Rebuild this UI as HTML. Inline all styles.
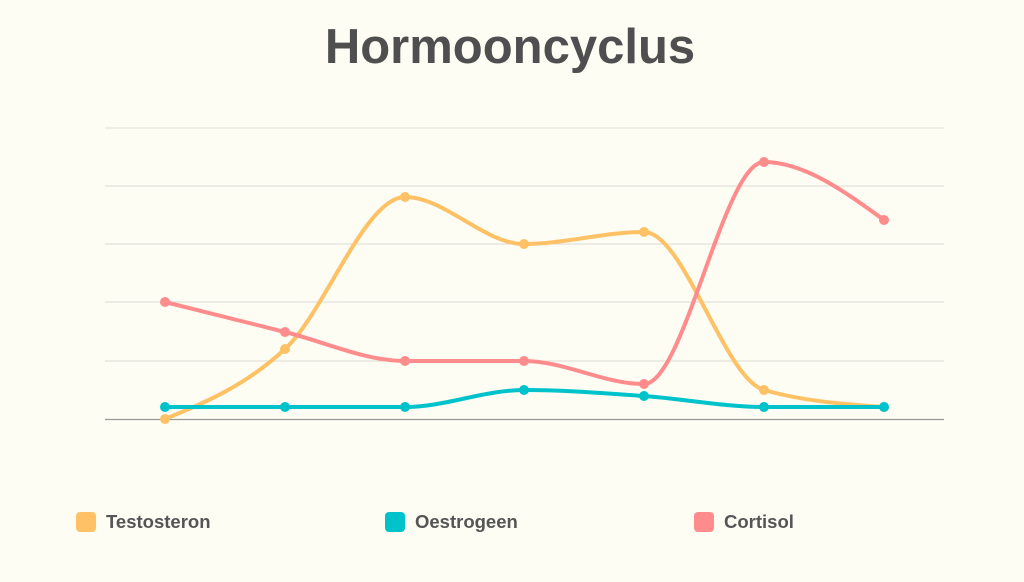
<!DOCTYPE html>
<html><head><meta charset="utf-8"><style>
html,body{margin:0;padding:0;background:#fdfdf4;}
body{width:1024px;height:577px;overflow:hidden;font-family:"Liberation Sans","DejaVu Sans",sans-serif;}
</style></head><body>
<svg id="c" width="1024" height="577" xmlns="http://www.w3.org/2000/svg">
<rect width="1024" height="577" fill="#fdfdf4"/>
<text x="510" y="63" text-anchor="middle" font-family="Liberation Sans, sans-serif" font-weight="bold" font-size="49" fill="#4f4f4f">Hormooncyclus</text>
<g stroke="#dcdcd6" stroke-width="1">
<line x1="105" x2="944" y1="128" y2="128"/><line x1="105" x2="944" y1="186" y2="186"/>
<line x1="105" x2="944" y1="244" y2="244"/><line x1="105" x2="944" y1="302" y2="302"/>
<line x1="105" x2="944" y1="361" y2="361"/>
</g>
<line x1="105" x2="944" y1="419.5" y2="419.5" stroke="#999" stroke-width="1.2"/>
<g id="series"></g>
<g font-size="18.5" font-weight="bold" fill="#555">
<rect x="76" y="512" width="20" height="20" rx="4" fill="#fec165"/>
<text x="106" y="528">Testosteron</text>
<rect x="385" y="512" width="20" height="20" rx="4" fill="#00c2cb"/>
<text x="415" y="528">Oestrogeen</text>
<rect x="694" y="512" width="20" height="20" rx="4" fill="#ff8c8c"/>
<text x="724" y="528">Cortisol</text>
</g>
</svg>
<script>
var xs=[165,285,405,524,644,764,884];
var S=[["#fec165",[419,349,197,244,232,390,407]],["#ff8c8c",[302,332,361,361,384,162,220]],["#00c2cb",[407,407,407,390,396,407,407]]];
function mono(x,y){var n=x.length,d=[],m=[];for(var i=0;i<n-1;i++)d.push((y[i+1]-y[i])/(x[i+1]-x[i]));
m[0]=d[0];m[n-1]=d[n-2];for(i=1;i<n-1;i++){if(d[i-1]*d[i]<=0)m[i]=0;else{var h0=x[i]-x[i-1],h1=x[i+1]-x[i];var p=(d[i-1]*h1+d[i]*h0)/(h0+h1);var s=Math.min(Math.abs(d[i-1]),Math.abs(d[i]))*2;m[i]=Math.sign(p)*Math.min(Math.abs(p),s);}}
m[0]=(3*d[0]-m[1])/2;m[n-1]=(3*d[n-2]-m[n-2])/2;
var p="M"+x[0]+","+y[0];for(i=0;i<n-1;i++){var h=(x[i+1]-x[i])/3;p+=" C"+(x[i]+h)+","+(y[i]+m[i]*h)+" "+(x[i+1]-h)+","+(y[i+1]-m[i+1]*h)+" "+x[i+1]+","+y[i+1];}return p;}
var g=document.getElementById("series"),h="";
S.forEach(function(s){h+='<path d="'+mono(xs,s[1])+'" fill="none" stroke="'+s[0]+'" stroke-width="4" stroke-linecap="round"/>';
s[1].forEach(function(v,i){h+='<circle cx="'+xs[i]+'" cy="'+v+'" r="5" fill="'+s[0]+'"/>';});});
g.innerHTML=h;
</script>
</body></html>
